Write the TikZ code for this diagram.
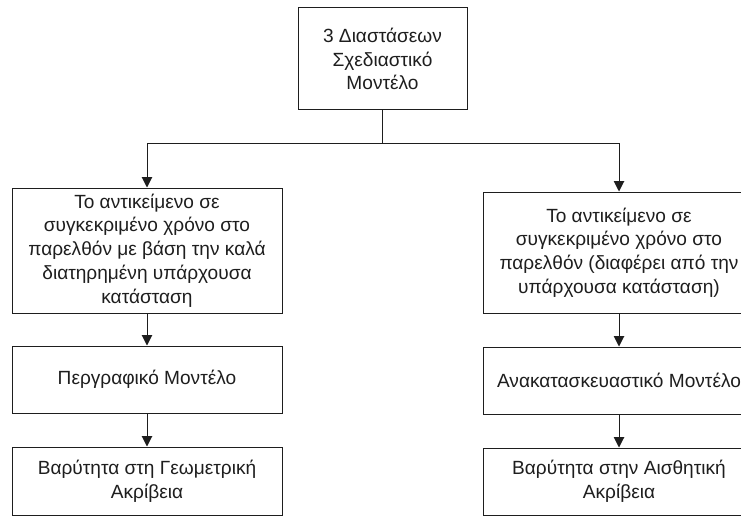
\documentclass[tikz,border=0pt]{standalone}
\usepackage{fontspec}
\setmainfont{Liberation Sans}
\usetikzlibrary{arrows.meta}
\definecolor{ink}{HTML}{1E1E1E}
\begin{document}
\begin{tikzpicture}[x=1pt,y=-1pt,
  box/.style={draw=ink,line width=1pt,text=ink,align=center,inner sep=0pt,
    font=\fontsize{19.1}{23.8}\selectfont,minimum width=#1},
  box/.default=270pt,
  link/.style={draw=ink,line width=1pt},
  arr/.style={link,-{Triangle[width=10.5pt,length=10.5pt]}}]
  \clip (0,0) rectangle (741,516);
  \fill[white] (0,0) rectangle (741,516);

  % root
  \node[box=169pt,minimum height=102pt] (top) at (382.5,59)
    {3 Διαστάσεων\\Σχεδιαστικό\\Μοντέλο};

  % left branch
  \node[box=270pt,minimum height=125pt] (l1) at (147,250.5)
    {Το αντικείμενο σε\\συγκεκριμένο χρόνο στο\\παρελθόν με βάση την καλά\\διατηρημένη υπάρχουσα\\κατάσταση};
  \node[box=270pt,minimum height=67pt] (l2) at (147,379.5)
    {Περγραφικό Μοντέλο};
  \node[box=270pt,minimum height=68pt] (l3) at (147,481)
    {Βαρύτητα στη Γεωμετρική\\Ακρίβεια};

  % right branch
  \node[box=272pt,minimum height=121pt] (r1) at (619,252.5)
    {Το αντικείμενο σε\\συγκεκριμένο χρόνο στο\\παρελθόν (διαφέρει από την\\υπάρχουσα κατάσταση)};
  \node[box=272pt,minimum height=67pt] (r2) at (619,380.5)
    {Ανακατασκευαστικό Μοντέλο};
  \node[box=272pt,minimum height=67pt] (r3) at (619,481.5)
    {Βαρύτητα στην Αισθητική\\Ακρίβεια};

  % connectors
  \coordinate (split) at (382.5,143);
  \draw[link] (top.south) -- (split);
  \draw[arr] (split) -| (l1.north);
  \draw[arr] (split) -| (r1.north);
  \draw[arr] (l1.south) -- (l2.north);
  \draw[arr] (l2.south) -- (l3.north);
  \draw[arr] (r1.south) -- (r2.north);
  \draw[arr] (r2.south) -- (r3.north);
\end{tikzpicture}
\end{document}
